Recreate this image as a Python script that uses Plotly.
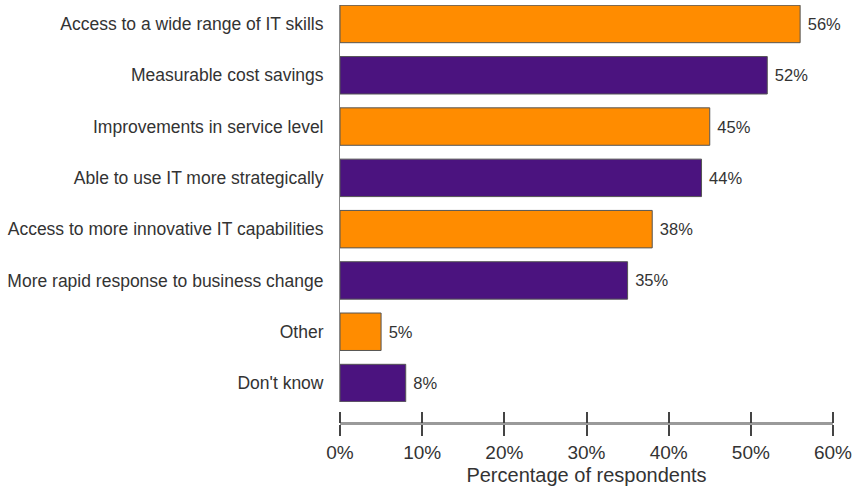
import plotly.graph_objects as go

categories = [
    "Access to a wide range of IT skills",
    "Measurable cost savings",
    "Improvements in service level",
    "Able to use IT more strategically",
    "Access to more innovative IT capabilities",
    "More rapid response to business change",
    "Other",
    "Don't know",
]
values = [56, 52, 45, 44, 38, 35, 5, 8]
bar_colors = ["#FF8C00", "#4B137F"] * 4
x_ticks = [0, 10, 20, 30, 40, 50, 60]
x_tick_labels = [f"{v}%" for v in x_ticks]

FONT = "Liberation Sans, Arial, sans-serif"

fig = go.Figure()
fig.add_trace(go.Bar(
    y=categories, x=values, orientation="h",
    marker=dict(color=bar_colors, line=dict(color="#555555", width=1)),
    width=0.73,
    text=[f" {v}%" for v in values], textposition="outside",
    textfont=dict(family=FONT, size=16.5, color="#333333"),
    cliponaxis=False, showlegend=False, hoverinfo="skip",
))
# invisible trace on overlay axis for the upper half of the tick marks
fig.add_trace(go.Scatter(x=[0, 60], y=[categories[0], categories[0]], xaxis="x2",
                         mode="markers", marker=dict(opacity=0), showlegend=False,
                         hoverinfo="skip"))

fig.update_layout(
    width=857, height=491,
    margin=dict(l=340, r=24, t=5, b=68),
    plot_bgcolor="white", paper_bgcolor="white",
    font=dict(family=FONT, size=15, color="#333333"),
    bargap=0.27,
    xaxis=dict(
        range=[0, 60], tickvals=x_ticks, ticktext=x_tick_labels,
        anchor="free", position=0, side="bottom",
        showgrid=False, zeroline=False,
        showline=True, linecolor="#9a9a9a", linewidth=3,
        ticks="outside", ticklen=11, tickwidth=1.5, tickcolor="#444444",
        tickfont=dict(family=FONT, size=19, color="#333333"),
        title=dict(text="Percentage of respondents", font=dict(family=FONT, size=20, color="#333333"),
                   standoff=6),
    ),
    xaxis2=dict(
        range=[0, 60], tickvals=x_ticks, overlaying="x", anchor="free", position=0, side="top",
        showgrid=False, zeroline=False, showline=False, showticklabels=False,
        ticks="outside", ticklen=11, tickwidth=1.5, tickcolor="#444444",
    ),
    yaxis=dict(
        domain=[0.0502, 1],
        categoryorder="array", categoryarray=categories,
        range=[7.37, -0.37],
        showgrid=False, zeroline=False,
        showline=True, linecolor="#888888", linewidth=1,
        ticks="", ticklabelstandoff=12,
        tickfont=dict(family=FONT, size=17.5, color="#333333"),
    ),
)

fig.write_html("out.html")
